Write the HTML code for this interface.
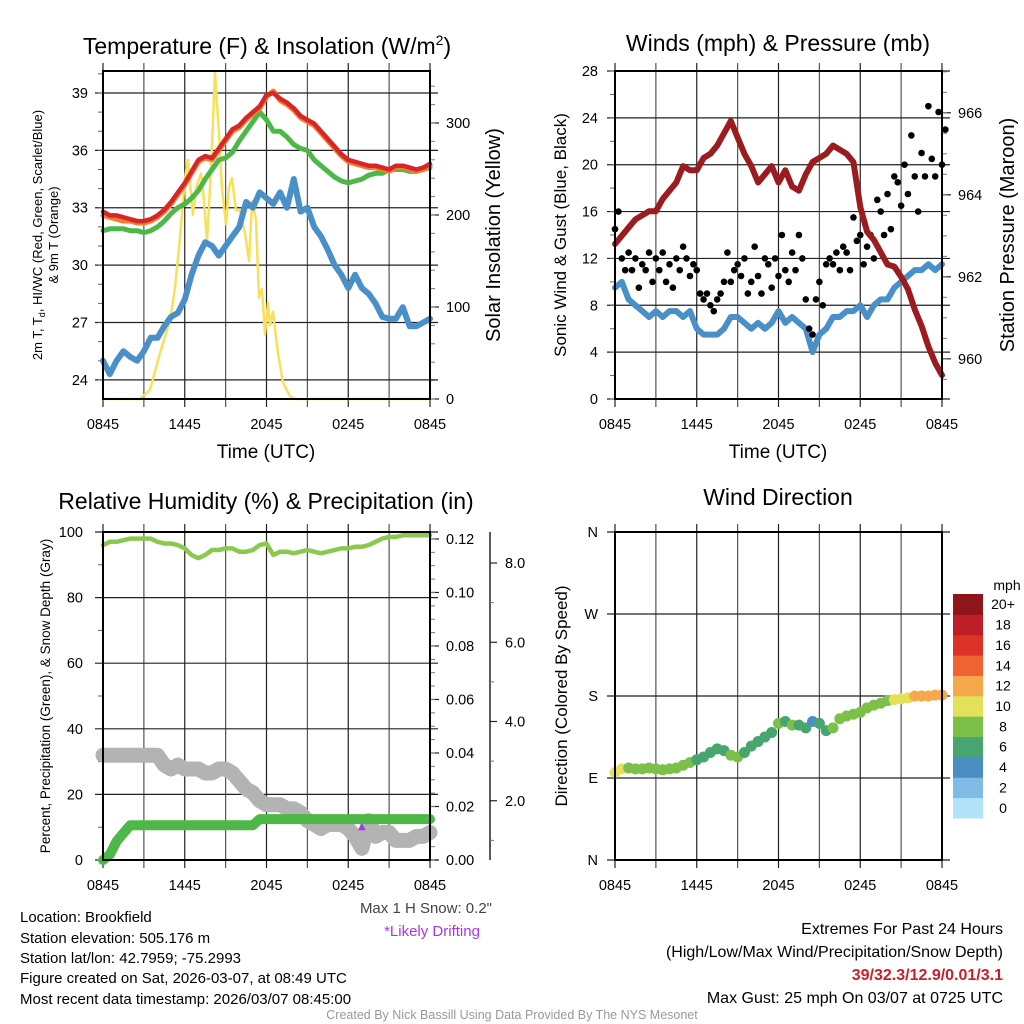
<!DOCTYPE html>
<html><head><meta charset="utf-8"><style>
html,body{margin:0;padding:0;background:#fff;}
svg{display:block;font-family:"Liberation Sans",Arial,sans-serif;}
</style></head><body>
<svg id="fig" width="1024" height="1024" viewBox="0 0 1024 1024" xmlns="http://www.w3.org/2000/svg">
<rect width="1024" height="1024" fill="#fff"/>
<text x="267" y="54" font-size="23" text-anchor="middle">Temperature (F) &amp; Insolation (W/m<tspan dy="-9" font-size="14">2</tspan><tspan dy="9">)</tspan></text>
<text x="778" y="51" font-size="23" text-anchor="middle">Winds (mph) &amp; Pressure (mb)</text>
<text x="266" y="509" font-size="23" text-anchor="middle">Relative Humidity (%) &amp; Precipitation (in)</text>
<text x="778" y="505" font-size="23" text-anchor="middle">Wind Direction</text>

<text transform="translate(42,235) rotate(-90)" font-size="13" text-anchor="middle">2m T, T<tspan font-size="9" dy="3">d</tspan><tspan dy="-3">, HI/WC (Red, Green, Scarlet/Blue)</tspan></text>
<text transform="translate(58,235) rotate(-90)" font-size="13" text-anchor="middle">&amp; 9m T (Orange)</text>
<text transform="translate(500,235) rotate(-90)" font-size="20" text-anchor="middle">Solar Insolation (Yellow)</text>
<text transform="translate(566,235) rotate(-90)" font-size="17" text-anchor="middle">Sonic Wind &amp; Gust (Blue, Black)</text>
<text transform="translate(1014,235) rotate(-90)" font-size="20" text-anchor="middle">Station Pressure (Maroon)</text>
<text transform="translate(50,696) rotate(-90)" font-size="13.5" text-anchor="middle">Percent, Precipitation (Green), &amp; Snow Depth (Gray)</text>
<text transform="translate(567,696) rotate(-90)" font-size="17" text-anchor="middle">Direction (Colored By Speed)</text>
<text x="266" y="458" font-size="19" text-anchor="middle">Time (UTC)</text>
<text x="778" y="458" font-size="19" text-anchor="middle">Time (UTC)</text>

<g font-size="15">
<text x="20" y="922">Location: Brookfield</text>
<text x="20" y="943">Station elevation: 505.176 m</text>
<text x="20" y="963">Station lat/lon: 42.7959; -75.2993</text>
<text x="20" y="983">Figure created on Sat, 2026-03-07, at 08:49 UTC</text>
<text x="20" y="1004">Most recent data timestamp: 2026/03/07 08:45:00</text>
</g>
<text x="492" y="913" font-size="15" text-anchor="end" fill="#444">Max 1 H Snow: 0.2"</text>
<text x="432" y="936" font-size="15" text-anchor="middle" fill="#a23ae8">*Likely Drifting</text>
<g font-size="16" text-anchor="end">
<text x="1003" y="934">Extremes For Past 24 Hours</text>
<text x="1003" y="957">(High/Low/Max Wind/Precipitation/Snow Depth)</text>
<text x="1003" y="980" fill="#c8202a" font-weight="bold">39/32.3/12.9/0.01/3.1</text>
<text x="1003" y="1003">Max Gust: 25 mph On 03/07 at 0725 UTC</text>
</g>
<text x="512" y="1019" font-size="12.5" text-anchor="middle" fill="#999">Created By Nick Bassill Using Data Provided By The NYS Mesonet</text>
</svg>
<script>
// ---- data (half-hourly from 0845 UTC, 49 points) ----
const xTickLabels = ["0845","1445","2045","0245","0845"];
const tempRed = [32.8,32.6,32.6,32.5,32.4,32.3,32.3,32.4,32.6,32.9,33.3,33.8,34.3,34.9,35.5,35.7,35.6,36.1,36.6,37.1,37.3,37.7,38.0,38.3,38.9,39.0,38.7,38.5,38.2,37.8,37.6,37.4,37.0,36.6,36.2,35.8,35.5,35.4,35.3,35.2,35.2,35.1,35.0,35.2,35.2,35.1,35.0,35.1,35.3];
const tempOrange = [32.6,32.5,32.4,32.3,32.3,32.2,32.2,32.3,32.5,32.8,33.2,33.7,34.2,34.8,35.4,35.6,35.5,36.0,36.5,37.0,37.2,37.6,37.9,38.2,38.8,39.1,38.6,38.4,38.1,37.7,37.5,37.3,36.9,36.5,36.1,35.7,35.4,35.3,35.2,35.1,35.1,35.0,34.9,35.1,35.1,35.0,34.9,35.0,35.2];
const tempGreen = [31.8,31.9,31.9,31.9,31.8,31.8,31.7,31.8,32.0,32.3,32.7,33.0,33.2,33.5,33.9,34.5,35.0,35.5,35.6,35.9,36.5,37.0,37.5,38.0,37.6,37.0,37.0,36.7,36.3,36.1,36.0,35.5,35.2,34.9,34.6,34.4,34.3,34.4,34.5,34.7,34.8,34.8,35.0,35.0,35.0,34.9,34.9,35.0,35.1];
const dewBlue = [25.0,24.3,25.0,25.5,25.2,25.0,25.5,26.2,26.2,26.8,27.3,27.5,28.2,29.5,30.5,31.2,31.0,30.5,31.0,31.5,32.0,33.3,33.0,33.8,33.5,33.2,33.8,33.0,34.5,32.8,33.0,32.0,31.5,30.8,30.0,29.5,28.8,29.5,28.8,28.5,28.0,27.3,27.2,27.2,27.8,26.8,26.8,27.0,27.2];
const solarHours = [0,2.7,3.45,4.18,4.92,5.28,5.65,6.02,6.24,6.6,6.83,7.2,7.42,7.63,7.93,8.22,8.51,8.73,9.03,9.25,9.47,9.76,10.05,10.42,10.72,10.94,11.23,11.45,11.67,11.89,12.11,12.26,12.48,12.84,13.21,13.72,14.09,24];
const solarValues = [0,0,10,50,85,120,175,240,260,200,230,245,215,170,250,355,290,230,190,230,240,205,205,180,150,215,195,110,120,70,105,80,95,50,18,3,0,0];
const windSpeed = [9.5,10,8.5,8,7.5,7,7.5,7,7.5,7.5,7,7.5,6,5.5,5.5,5.5,6,7,7,6.5,6,6.5,6,6.5,7.5,6.5,7,6.5,6,4,5.5,6,7,7,7.5,7.5,8,7,8,8.5,8.5,9.5,10,10.5,11,11,11.5,11,11.5];
const pressure = [962.8,963.0,963.2,963.4,963.5,963.6,963.6,963.9,964.1,964.3,964.7,964.6,964.6,964.9,965.0,965.2,965.5,965.8,965.4,965.0,964.7,964.3,964.5,964.7,964.3,964.6,964.2,964.1,964.5,964.8,964.9,965.0,965.2,965.1,965.0,964.8,963.7,963.1,962.9,962.6,962.3,962.25,962.0,961.7,961.2,960.8,960.3,959.9,959.6];
// gusts every 15 min (97 points)
const gust = [14.5,16,12,11,12.5,11,12,9.5,11.5,11,12.5,10,12,
 11,12.5,10,11.5,9.5,12,11,13,12,10.5,11.5,11,
 9,8.5,9,8,7.5,8.5,9,10,12.5,10,11,11.5,
 10.5,12,9,10,13,10.5,9,12,11.5,9.5,12,10.5,
 14,11,10,12.5,11,14,12,8.5,6,5.5,8.5,10,
 8,11.5,12,11.5,12.5,11,13,12.5,11,15.5,13.5,14,
 11.5,13,14,12,17,16,14,17.5,14.5,19,18.5,16.5,
 20,17.5,22.5,19,16,21,19,25,20.5,19,24.5,20,23];
const rh = [96,97,97,97.5,98,98,98,98,97,96.5,96.5,96,95,93,92,93,94.5,94.5,95,95,94,94,94.5,96,96.5,93,94,94,93.5,94,94.5,94,93.5,94,94.5,95,95,95.5,95.5,96,97,98,98.5,98.5,99,99,99,99,99];
const precip = [0,0.002,0.007,0.010,0.013,0.013,0.013,0.013,0.013,0.013,0.013,0.013,0.013,0.013,0.013,0.013,0.013,0.013,0.013,0.013,0.013,0.013,0.013,0.0153,0.0153,0.0153,0.0153,0.0153,0.0153,0.0153,0.0153,0.0153,0.0153,0.0153,0.0153,0.0153,0.0153,0.0153,0.0153,0.0153,0.0153,0.0153,0.0153,0.0153,0.0153,0.0153,0.0153,0.0153,0.0153];
const snowDepth = [3.15,3.15,3.15,3.15,3.15,3.15,3.15,3.15,3.15,2.9,2.8,2.9,2.8,2.8,2.8,2.7,2.7,2.8,2.8,2.7,2.5,2.3,2.2,2.0,1.9,1.9,1.9,1.8,1.8,1.7,1.5,1.4,1.3,1.4,1.4,1.4,1.3,1.1,0.8,1.5,1.1,1.2,1.2,1.0,1.0,1.0,1.1,1.1,1.2];
const windDir = [96,100,101,100,100,101,100,99,100,101,104,107,110,113,118,122,120,115,113,118,125,130,135,140,150,152,148,148,145,152,150,142,145,155,158,160,162,167,170,172,175,176,177,178,180,180,180,181,181];
const speedColors = ["#b3e3f8","#7fbbe4","#4a8ec6","#47a670","#7cc04a","#e4e05a","#f5a94a","#ef6331","#dc3329","#be1e27","#8e1519"];
const speedLabels = ["0","2","4","6","8","10","12","14","16","18","20+"];

const NS="http://www.w3.org/2000/svg";
const svg=document.getElementById('fig');
function mk(tag,attrs,parent){const e=document.createElementNS(NS,tag);for(const k in attrs)e.setAttribute(k,attrs[k]);(parent||svg).appendChild(e);return e;}
function txt(x,y,s,size,anchor,parent){const t=mk('text',{x:x,y:y,'font-size':size,'text-anchor':anchor},parent);t.textContent=s;return t;}

function panel(name,x0,x1,y0,y1){
  const g=mk('g',{});
  
  
  return {g,x0,x1,y0,y1,xh:h=>x0+h/24*(x1-x0)};
}
function lin(d0,d1,p0,p1){return v=>p0+(v-d0)/(d1-d0)*(p1-p0);}

function drawFrame(P,yTicks,yScale,labels,labelX,minor){
  const gg=mk('g',{},P.g);
  
  
  for(let k=0;k<=8;k++){const x=P.xh(k*3);
    mk('line',{x1:x,x2:x,y1:P.y0-8,y2:P.y1+8,stroke:k%2? '#555':'#222','stroke-width':1.2},gg);}
  yTicks.forEach(v=>{const y=yScale(v);mk('line',{x1:P.x0-8,x2:P.x1+8,y1:y,y2:y,stroke:'#222','stroke-width':1.2},gg);});
  if(minor) minor.forEach(v=>{const y=yScale(v);mk('line',{x1:P.x0-5,x2:P.x0,y1:y,y2:y,stroke:'#666','stroke-width':1},gg);});
  const lg=mk('g',{},P.g);
  
  
  yTicks.forEach((v,i)=>{txt(labelX,yScale(v)+5,labels[i],14.5,'end',lg);});
  const xg=mk('g',{},P.g);
  
  
  xTickLabels.forEach((s,i)=>txt(P.xh(i*6),P.y1+30,s,14.5,'middle',xg));
}
function box(P){const r=mk('rect',{x:P.x0,y:P.y0,width:P.x1-P.x0,height:P.y1-P.y0,fill:'none',stroke:'#000','stroke-width':2},P.g);
  
  }
function line(P,xs,ys,color,w,name){
  const d=xs.map((x,i)=>(i?'L':'M')+x.toFixed(1)+' '+ys[i].toFixed(1)).join(' ');
  const p=mk('path',{d:d,fill:'none',stroke:color,'stroke-width':w,'stroke-linejoin':'round','stroke-linecap':'round'},P.g);
  
  
  return p;
}
function rightAxis(P,x,ticks,scale,labels,minorTicks,name){
  const g=mk('g',{},P.g);
  
  
  ticks.forEach((v,i)=>{const y=scale(v);mk('line',{x1:x,x2:x+9,y1:y,y2:y,stroke:'#222','stroke-width':1.2},g);txt(x+16,y+5,labels[i],14.5,'start',g);});
  minorTicks.forEach(v=>{const y=scale(v);mk('line',{x1:x,x2:x+5,y1:y,y2:y,stroke:'#777','stroke-width':1},g);});
}
const half=windSpeed.map((_,i)=>i/2);

// ---------- Panel 1: temperature ----------
const P1=panel('temperature-chart',103,430,71,399);
const yT=lin(23,40.15,399,71), yS=lin(0,356.5,399,71);
const minorT=[];for(let v=24;v<=40;v++)minorT.push(v);
drawFrame(P1,[24,27,30,33,36,39],yT,["24","27","30","33","36","39"],88,minorT);
const minorS=[];for(let v=0;v<=340;v+=20)minorS.push(v);
rightAxis(P1,430,[0,100,200,300],yS,["0","100","200","300"],minorS,'solar-axis');
line(P1,solarHours.map(P1.xh),solarValues.map(yS),'#f7e15a',2.5,'solar-line');
line(P1,half.map(P1.xh),dewBlue.map(yT),'#4a90c8',6,'dewpoint-line');
line(P1,half.map(P1.xh),tempGreen.map(yT),'#4db848',5,'windchill-line');
line(P1,half.map(P1.xh),tempOrange.map(yT),'#f47d2c',5,'temp-9m-line');
line(P1,half.map(P1.xh),tempRed.map(yT),'#d7262a',4.5,'temp-2m-line');
box(P1);

// ---------- Panel 2: wind & pressure ----------
const P2=panel('wind-pressure-chart',615,942,71,399);
const yW=lin(0,28,399,71), yP=lin(959.02,967.02,399,71);
const minorW=[];for(let v=0;v<=28;v+=2)minorW.push(v);
drawFrame(P2,[0,4,8,12,16,20,24,28],yW,["0","4","8","12","16","20","24","28"],598,minorW);
const minorP=[];for(let v=959.5;v<=967;v+=0.5)minorP.push(v);
rightAxis(P2,942,[960,962,964,966],yP,["960","962","964","966"],minorP,'pressure-axis');
line(P2,half.map(P2.xh),windSpeed.map(yW),'#4a90c8',6,'wind-speed-line');
const gg2=mk('g',{},P2.g);


gust.forEach((v,i)=>{const c=mk('circle',{cx:P2.xh(i/4),cy:yW(v),r:3.3,fill:'#000'},gg2);
  
  });
line(P2,half.map(P2.xh),pressure.map(yP),'#9b1c1f',6,'pressure-line');
box(P2);

// ---------- Panel 3: RH & precip ----------
const P3=panel('rh-precip-chart',103,430,532,860);
const yR=lin(0,100,860,532), yPr=lin(0,0.1226,860,532), ySn=lin(0,8,880,563);
drawFrame(P3,[0,20,40,60,80,100],yR,["0","20","40","60","80","100"],83,[10,30,50,70,90]);
const minorPr=[];for(let v=0;v<=0.122;v+=0.005)minorPr.push(v);
rightAxis(P3,430,[0,0.02,0.04,0.06,0.08,0.1,0.12],yPr,["0.00","0.02","0.04","0.06","0.08","0.10","0.12"],minorPr,'precip-axis');
const sg=mk('g',{},P3.g);


mk('line',{x1:490,x2:490,y1:532,y2:860,stroke:'#222','stroke-width':1.5},sg);
[2,4,6,8].forEach(v=>{const y=ySn(v);mk('line',{x1:490,x2:497,y1:y,y2:y,stroke:'#222','stroke-width':1.2},sg);txt(505,y+5,v.toFixed(1),14.5,'start',sg);});
[1,3,5,7].forEach(v=>{const y=ySn(v);mk('line',{x1:490,x2:494,y1:y,y2:y,stroke:'#777','stroke-width':1},sg);});
line(P3,half.map(P3.xh),snowDepth.map(ySn),'#b3b3b3',15,'snow-depth-line');
const tri=mk('path',{d:`M${P3.xh(19)-4} ${ySn(snowDepth[38])-18} l4 -7 l4 7 z`,fill:'#a23ae8'},P3.g);


line(P3,half.map(P3.xh),rh.map(yR),'#8cc850',4.5,'rh-line');
line(P3,half.map(P3.xh),precip.map(yPr),'#4db848',10,'precip-line');
box(P3);

// ---------- Panel 4: wind direction ----------
const P4=panel('wind-direction-chart',615,942,532,860);
const yD=lin(0,360,860,532);
drawFrame(P4,[0,90,180,270,360],yD,["N","E","S","W","N"],598,[]);
const dg=mk('g',{},P4.g);


function spdIdx(s){return Math.max(0,Math.min(10,Math.floor((s+1)/2)));}
windDir.forEach((d,i)=>{
  const c=mk('circle',{cx:P4.xh(i/2),cy:yD(d),r:5.5,fill:speedColors[spdIdx(windSpeed[i])]},dg);
  
  
});
box(P4);
// colorbar
const cb=mk('g',{});


txt(1007,590,'mph',14,'middle',cb);
const bh=224/11;
speedColors.forEach((c,k)=>{const y=818-(k+1)*bh;
  const r=mk('rect',{x:953,y:y,width:30,height:bh+0.5,fill:c},cb);
  
  
  txt(1003,y+bh/2+5,speedLabels[k],14,'middle',cb);});
</script>
</body></html>
